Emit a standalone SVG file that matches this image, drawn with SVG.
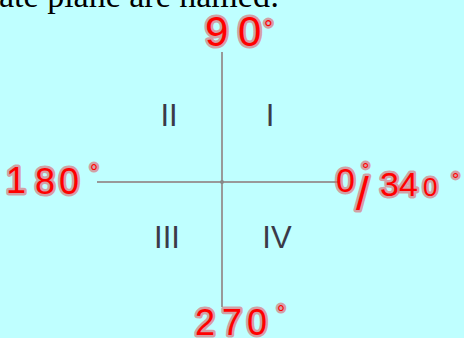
<svg xmlns="http://www.w3.org/2000/svg" width="464" height="338" viewBox="0 0 464 338">
<style>
.hand{font-family:"Liberation Sans",Arial,sans-serif;fill:#ff0000;stroke:#e0606a;stroke-width:5;stroke-linejoin:round;paint-order:stroke;stroke-opacity:0.6}
.q{font-family:"Liberation Sans",Arial,sans-serif;font-size:31px;fill:#3a3a48}
.axis{stroke:#999999;stroke-width:2}
</style>
<rect width="464" height="338" fill="#bfffff"/>
<text x="-1" y="7" font-family="Liberation Serif,Times New Roman,serif" font-size="34" fill="#000">ate plane are named:</text>
<g id="axes">
<line class="axis" x1="222" y1="52" x2="222" y2="307"/>
<line class="axis" x1="97" y1="182" x2="340" y2="182"/>
<circle cx="222" cy="182" r="2" fill="#888"/>
</g>
<g id="q1"><text class="q" x="270" y="126" text-anchor="middle">I</text></g>
<g id="q2"><text class="q" x="169" y="126" text-anchor="middle">II</text></g>
<g id="q3"><text class="q" x="167" y="248" text-anchor="middle">III</text></g>
<g id="q4"><text class="q" x="277" y="248" text-anchor="middle">IV</text></g>
<g id="l90"><text class="hand" font-size="42"><tspan x="205" y="46">9</tspan><tspan x="238" y="46">0</tspan><tspan x="264" y="36" font-size="22">°</tspan></text></g>
<g id="l180"><text class="hand" font-size="36"><tspan x="6" y="193">1</tspan><tspan x="35" y="194">8</tspan><tspan x="59" y="194">0</tspan><tspan x="90" y="179" font-size="20">°</tspan></text></g>
<g id="l0"><text class="hand" font-size="34"><tspan x="336" y="192">0</tspan><tspan x="362" y="176" font-size="18">°</tspan><tspan x="356" y="210" font-size="46">/</tspan><tspan x="380" y="196">3</tspan><tspan x="399" y="196">4</tspan><tspan x="423" y="196" font-size="26">0</tspan><tspan x="452" y="186" font-size="18">°</tspan></text></g>
<g id="l270"><text class="hand" font-size="36"><tspan x="195" y="335">2</tspan><tspan x="222" y="335">7</tspan><tspan x="247" y="335">0</tspan><tspan x="277" y="320" font-size="20">°</tspan></text></g>
</svg>
